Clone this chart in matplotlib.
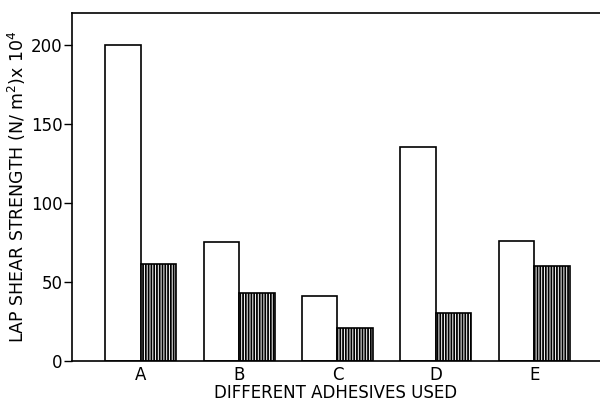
import numpy as np
import matplotlib
matplotlib.use('Agg')
import matplotlib.pyplot as plt

# Adhesives and lap shear strength values
adhesives = ['A', 'B', 'C', 'D', 'E']
open_bars = [200, 75, 41, 135, 76]
hatched_bars = [61, 43, 21, 30, 60]
y_ticks = [0, 50, 100, 150, 200]

plt.rcParams['font.family'] = 'DejaVu Sans'
plt.rcParams['hatch.linewidth'] = 1.3

fig = plt.figure(figsize=(6, 4.05), dpi=100)
ax = fig.add_axes([0.12, 0.109, 0.88, 0.859])

x = np.arange(len(adhesives))
width = 0.36

ax.bar(x - width / 2, open_bars, width, facecolor='white', edgecolor='black', linewidth=1.2)
ax.bar(x + width / 2, hatched_bars, width, facecolor='white', edgecolor='black',
       linewidth=1.2, hatch='||||||')

ax.set_xlim(-0.70, 4.67)
ax.set_ylim(0, 220)
ax.set_xticks(x)
ax.set_xticklabels(adhesives)
ax.set_yticks(y_ticks)
ax.tick_params(axis='x', length=0, labelsize=12, pad=4)
ax.tick_params(axis='y', length=6, width=1, labelsize=12, pad=1, direction='out')

ax.spines['right'].set_visible(False)
for s in ['left', 'bottom', 'top']:
    ax.spines[s].set_linewidth(1.2)

ax.set_xlabel('DIFFERENT ADHESIVES USED', fontsize=12, labelpad=0)
ax.set_ylabel('LAP SHEAR STRENGTH (N/ m$^2$)x 10$^4$', fontsize=12.5, labelpad=2)

fig.savefig('out.png', dpi=100)
